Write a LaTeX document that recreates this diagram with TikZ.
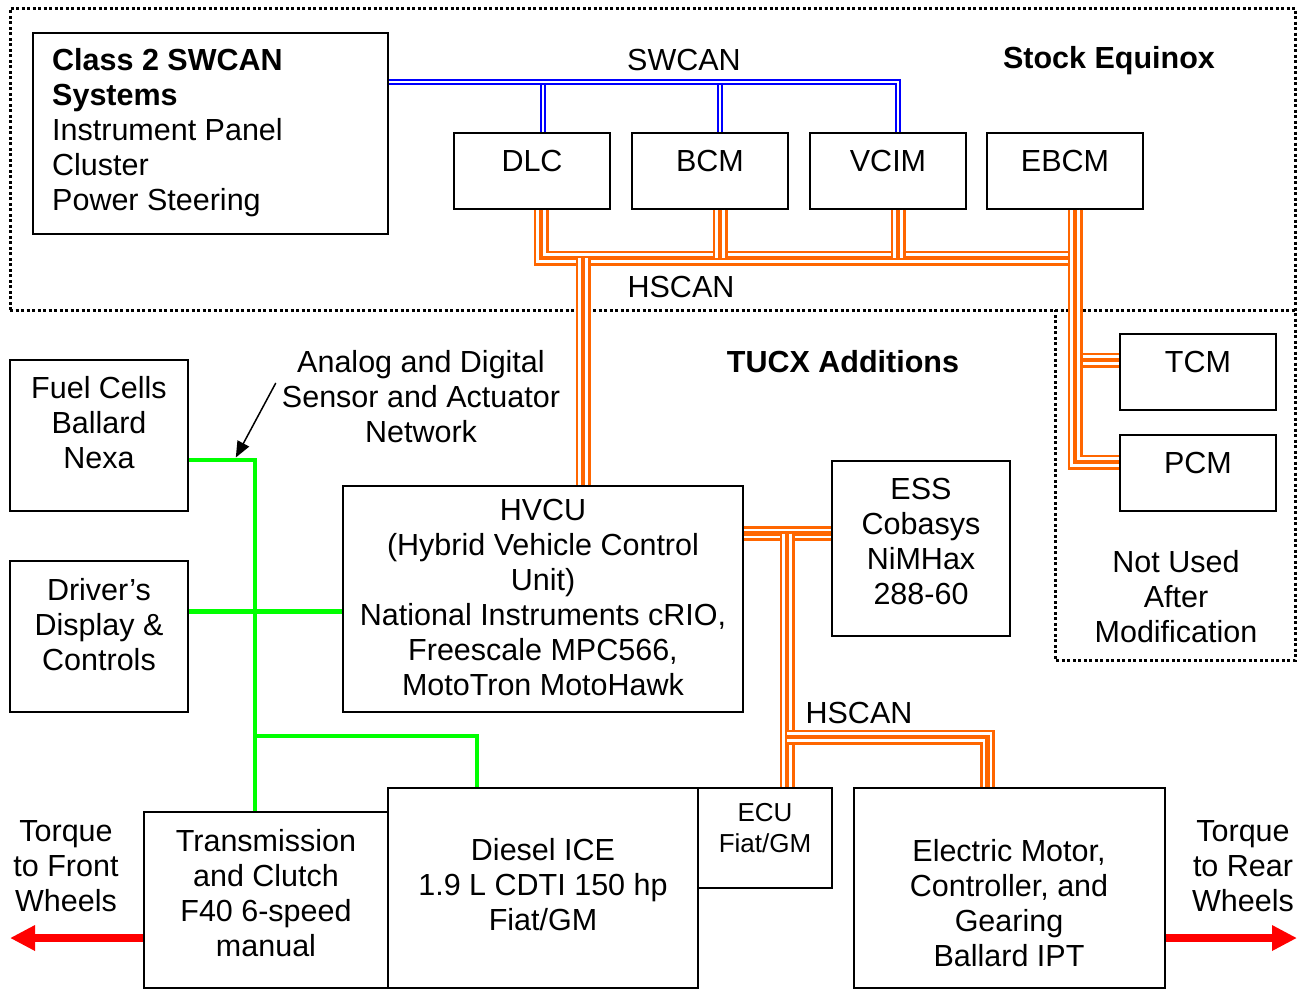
\documentclass[tikz,border=0pt]{standalone}
\usepackage{fontspec}
\setmainfont{Liberation Sans}
\usetikzlibrary{arrows.meta,calc}
\definecolor{busorange}{RGB}{255,102,0}
\definecolor{busblue}{RGB}{0,0,255}
\definecolor{busgreen}{RGB}{0,255,0}
\definecolor{arrred}{RGB}{255,0,0}
\begin{document}
\begin{tikzpicture}[x=1pt,y=-1pt,
 box/.style={draw=black,line width=1.6pt,inner sep=0pt},
 txt/.style={inner sep=0pt,align=center,font=\fontsize{30.5}{35}\selectfont},
 small/.style={inner sep=0pt,align=center,font=\fontsize{26}{31}\selectfont},
 sw/.style={draw=busblue,line width=2pt,double=white,double distance=2.5pt},
 hs/.style={draw=busorange,line width=15pt,postaction={draw=white,line width=9.5pt},postaction={draw=busorange,line width=4.5pt}},
 gr/.style={draw=busgreen,line width=4.5pt},
 dotbox/.style={draw=black,line width=3pt,dash pattern=on 3pt off 2.5pt},
 torque/.style={draw=arrred,line width=7.5pt,-{Triangle[length=25pt,width=24pt]}},
 note/.style={draw=black,line width=1.5pt,-{Triangle[length=16pt,width=13pt]}}
]
\useasboundingbox (0,0) rectangle (1297,989);

% dotted regions
\draw[dotbox] (10,310) -- (10,8) -- (1295,8) -- (1295,660) -- (1055,660) -- (1055,310);
\draw[dotbox] (10,310) -- (1295,310);

% boxes
\node[box,minimum width=355,minimum height=201] (class2) at (210.5,133.5) {};
\node[box,minimum width=156,minimum height=76] (dlc) at (532,171) {};
\node[box,minimum width=156,minimum height=76] (bcm) at (710,171) {};
\node[box,minimum width=156,minimum height=76] (vcim) at (888,171) {};
\node[box,minimum width=156,minimum height=76] (ebcm) at (1065,171) {};
\node[box,minimum width=156,minimum height=76] (tcm) at (1198,372) {};
\node[box,minimum width=156,minimum height=76] (pcm) at (1198,473) {};
\node[box,minimum width=178,minimum height=151] (fuel) at (99,435.5) {};
\node[box,minimum width=178,minimum height=151] (driver) at (99,636.5) {};
\node[box,minimum width=400,minimum height=226] (hvcu) at (543,599) {};
\node[box,minimum width=178,minimum height=175] (ess) at (921,548.5) {};
\node[box,minimum width=244,minimum height=176] (trans) at (266,900) {};
\node[box,minimum width=310,minimum height=200] (diesel) at (543,888) {};
\node[box,minimum width=134,minimum height=100] (ecu) at (765,838) {};
\node[box,minimum width=311,minimum height=200] (em) at (1009.5,888) {};

% box texts
\node[txt,align=left,anchor=west] (c2t) at (52,133) {\textbf{Class 2 SWCAN}\\\textbf{Systems}\\Instrument Panel\\Cluster\\Power Steering};
\node[txt] (dlct) at (532,161) {DLC};
\node[txt] (bcmt) at (710,161) {BCM};
\node[txt] (vcimt) at (888,161) {VCIM};
\node[txt] (ebcmt) at (1065,161) {EBCM};
\node[txt] (tcmt) at (1198,362) {TCM};
\node[txt] (pcmt) at (1198,463) {PCM};
\node[txt] (fuelt) at (99,423) {Fuel Cells\\Ballard\\Nexa};
\node[txt] (drivert) at (99,625) {Driver’s\\Display \&\\Controls};
\node[txt] (hvcut) at (543,597) {HVCU\\(Hybrid Vehicle Control\\Unit)\\National Instruments cRIO,\\Freescale MPC566,\\MotoTron MotoHawk};
\node[txt] (esst) at (921,541) {ESS\\Cobasys\\NiMHax\\288-60};
\node[txt] (transt) at (266,893) {Transmission\\and Clutch\\F40 6-speed\\manual};
\node[txt] (dieselt) at (543,885) {Diesel ICE\\1.9 L CDTI 150 hp\\Fiat/GM};
\node[small] (ecut) at (765,828) {ECU\\Fiat/GM};
\node[txt] (emt) at (1009,903) {Electric Motor,\\Controller, and\\Gearing\\Ballard IPT};

% free labels
\node[txt] (swcanl) at (684,60) {SWCAN};
\node[txt,font=\fontsize{30.5}{35}\selectfont\bfseries] (stock) at (1109,61) {Stock Equinox};
\node[txt] (hscanl) at (681,287) {HSCAN};
\node[txt,font=\fontsize{30.5}{35}\selectfont\bfseries] (tucx) at (843,362) {TUCX Additions};
\node[txt] (analog) at (421,397) {Analog and Digital\\Sensor and Actuator\\Network};
\node[txt] (notused) at (1176,597) {Not Used\\After\\Modification};
\node[txt] (hscan2) at (859,713) {HSCAN};
\node[txt] (tfront) at (66,866) {Torque\\to Front\\Wheels};
\node[txt] (trear) at (1243,866) {Torque\\to Rear\\Wheels};

% SWCAN bus
\coordinate (swy) at (0,82);
\coordinate (dlcN) at ($(dlc.north)+(11,0)$);
\coordinate (bcmN) at ($(bcm.north)+(10,0)$);
\coordinate (vcimN) at ($(vcim.north)+(10,0)$);
\draw[sw] (class2.east |- swy) -| (vcimN);
\draw[sw,shorten >=3pt] (dlcN) -- (dlcN |- swy);
\draw[sw,shorten >=3pt] (bcmN) -- (bcmN |- swy);

% HSCAN bus (stock)
\coordinate (dlcS) at ($(dlc.south)+(9,0)$);
\coordinate (bcmS) at ($(bcm.south)+(10,0)$);
\coordinate (vcimS) at ($(vcim.south)+(10,0)$);
\coordinate (ebcmS) at ($(ebcm.south)+(10,0)$);
\coordinate (hsy) at (0,258);
\coordinate (hvcuN) at ($(hvcu.north)+(40,0)$);
\draw[hs] (dlcS) |- (ebcmS |- hsy);
\draw[hs] (bcmS) -- (bcmS |- hsy);
\draw[hs] (vcimS) -- (vcimS |- hsy);
\draw[hs] (hvcuN) -- (hvcuN |- hsy);
\draw[hs] (ebcmS) |- ($(tcm.west)+(0,-12)$);
\draw[hs] (ebcmS) |- ($(pcm.west)+(0,-11)$);

% HSCAN bus (TUCX)
\coordinate (essJ) at ($(ess.west)+(0,-15)$);
\coordinate (ecuN) at ($(ecu.north)+(22,0)$);
\coordinate (emN) at ($(em.north)+(-22,0)$);
\coordinate (hs2) at ($(ecu.north)+(22,-50)$);
\draw[hs] (hvcu.east |- essJ) -- (essJ);
\draw[hs] (ecuN |- essJ) -- (ecuN);
\draw[hs] (hs2) -| (emN);

% analog / digital network
\coordinate (trN) at ($(trans.north)+(-11,0)$);
\coordinate (drE) at ($(driver.east)+(0,-25)$);
\coordinate (dsN) at ($(diesel.north)+(-66,0)$);
\coordinate (gj) at ($(trN)+(0,-75)$);
\draw[gr] ($(fuel.east)+(0,24.5)$) -| (trN);
\draw[gr] (drE) -- (drE -| hvcu.west);
\draw[gr] (gj) -| (dsN);

% annotation arrow
\draw[note] ($(analog.west)+(-6,-14)$) -- ($(fuel.east)+(47,22)$);

% torque arrows
\coordinate (lw) at (10,938);
\coordinate (rw) at (1297,938);
\draw[torque] (trans.west |- lw) -- (lw);
\draw[torque] (em.east |- rw) -- (rw);
\end{tikzpicture}
\end{document}
